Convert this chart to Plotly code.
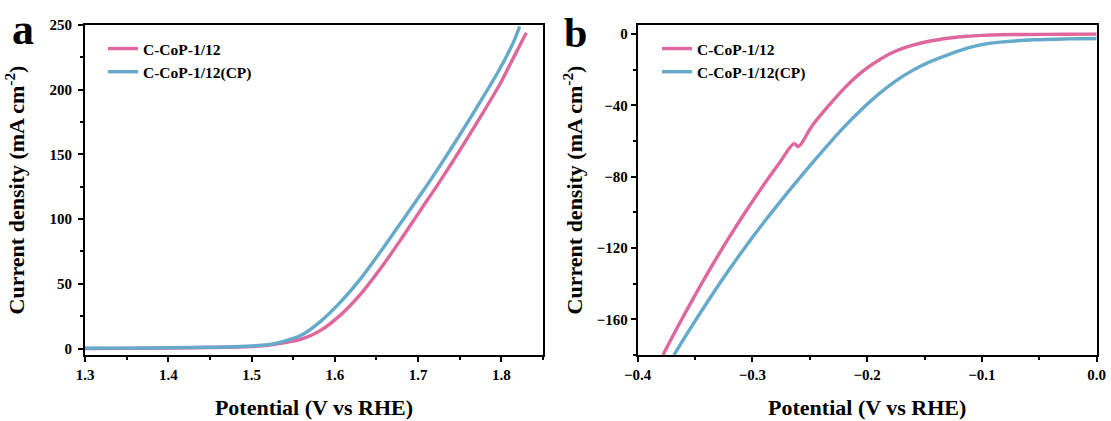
import plotly.graph_objects as go

# ---- Panel a: OER polarisation curves ----
a_pink_x = [1.30, 1.35, 1.40, 1.45, 1.50, 1.52, 1.535, 1.559, 1.583, 1.607, 1.631,
            1.654, 1.678, 1.702, 1.726, 1.750, 1.774, 1.798, 1.814, 1.830]
a_pink_y = [0.0, 0.1, 0.4, 0.8, 1.6, 2.5, 4.0, 7, 14, 26, 42,
            61, 83, 106, 129, 153, 178, 204, 224, 244]
a_blue_x = [1.30, 1.35, 1.40, 1.45, 1.50, 1.52, 1.535, 1.559, 1.583, 1.607, 1.631,
            1.654, 1.678, 1.702, 1.726, 1.750, 1.774, 1.798, 1.814, 1.822]
a_blue_y = [0.2, 0.3, 0.6, 1.0, 2.0, 3.0, 5.0, 10, 21, 36, 54,
            74, 96, 118, 141, 165, 190, 216, 236, 249]

# ---- Panel b: HER polarisation curves ----
b_pink_x = [-0.378, -0.365, -0.350, -0.336, -0.321, -0.306, -0.292, -0.277, -0.2637,
            -0.2600, -0.248, -0.233, -0.219, -0.204, -0.189, -0.175, -0.160, -0.146,
            -0.128, -0.113, -0.099, -0.084, -0.060, -0.030, 0.0]
b_pink_y = [-180, -164.0, -146.4, -130.7, -114.8, -99.7, -86.3, -72.8, -61.5,
            -63.2, -51.5, -39.8, -29.8, -21.0, -14.3, -9.6, -6.3, -4.1,
            -2.3, -1.3, -0.8, -0.5, -0.3, -0.2, -0.1]
b_blue_x = [-0.3684, -0.359, -0.336, -0.321, -0.306, -0.292, -0.277, -0.263, -0.248,
            -0.233, -0.219, -0.204, -0.189, -0.175, -0.160, -0.146, -0.128, -0.113,
            -0.099, -0.084, -0.055, -0.026, 0.0]
b_blue_y = [-180, -170.1, -147.1, -132.8, -119.3, -107.3, -95.0, -83.9, -72.4,
            -61.3, -51.4, -41.8, -33.2, -26.3, -20.3, -15.8, -11.3, -8.0,
            -5.9, -4.6, -3.3, -2.8, -2.6]

names = ["C-CoP-1/12", "C-CoP-1/12(CP)"]
colors = ["#E0679E", "#65AACB"]

FONT = "Liberation Serif"
W, H = 1111, 421

fig = go.Figure()
for (x, y), nm, col in zip([(a_pink_x, a_pink_y), (a_blue_x, a_blue_y)], names, colors):
    fig.add_trace(go.Scatter(x=x, y=y, mode="lines", name=nm,
                             line=dict(color=col, width=3.4, shape="spline", smoothing=0.9),
                             xaxis="x", yaxis="y", legend="legend"))
for (x, y), nm, col in zip([(b_pink_x, b_pink_y), (b_blue_x, b_blue_y)], names, colors):
    fig.add_trace(go.Scatter(x=x, y=y, mode="lines", name=nm,
                             line=dict(color=col, width=3.4, shape="spline", smoothing=0.9),
                             xaxis="x2", yaxis="y2", legend="legend2"))

ydom = [1 - 355 / H, 1 - 25 / H]
tickfont = dict(family=FONT, size=15, color="black", weight="bold")
titlefont = dict(family=FONT, size=22, color="black", weight="bold")
legfont = dict(family=FONT, size=15.5, color="black", weight="bold")


def axis_style(**kw):
    d = dict(showline=True, linecolor="black", linewidth=2, mirror=True,
             ticks="outside", ticklen=5, tickwidth=2, tickcolor="black",
             showgrid=False, zeroline=False, tickfont=tickfont, automargin=False)
    d.update(kw)
    return d


def minor(step):
    return dict(ticks="outside", ticklen=3, tickwidth=2, dtick=step, tickcolor="black")


ytitle = "Current density (mA cm<sup>-2</sup>)"
xtitle = "Potential (V vs RHE)"

fig.update_layout(
    width=W, height=H,
    margin=dict(l=0, r=0, t=0, b=0, autoexpand=False),
    paper_bgcolor="white", plot_bgcolor="white",
    font=dict(family=FONT, color="black"),
    xaxis=axis_style(domain=[85 / W, 543 / W], range=[1.3, 1.85], dtick=0.1, tick0=1.3,
                     minor=minor(0.05), anchor="y",
                     title=dict(text=xtitle, font=titlefont, standoff=18)),
    yaxis=axis_style(domain=ydom, range=[-5, 250], dtick=50, tick0=0,
                     minor=minor(25), anchor="x", ticklabelstandoff=3,
                     title=dict(text=ytitle, font=titlefont, standoff=19)),
    xaxis2=axis_style(domain=[637.7 / W, 1096.7 / W], range=[-0.4, 0.0], dtick=0.1, tick0=-0.4,
                      tickformat=".1f", minor=minor(0.05), anchor="y2",
                      title=dict(text=xtitle, font=titlefont, standoff=18)),
    yaxis2=axis_style(domain=ydom, range=[-180, 5], dtick=40, tick0=0,
                      minor=minor(20), anchor="x2",
                      title=dict(text=ytitle, font=titlefont, standoff=8)),
    legend=dict(x=103 / W, y=1 - 32 / H, xanchor="left", yanchor="top",
                bgcolor="rgba(0,0,0,0)", tracegroupgap=0, font=legfont),
    legend2=dict(x=657 / W, y=1 - 32 / H, xanchor="left", yanchor="top",
                 bgcolor="rgba(0,0,0,0)", tracegroupgap=0, font=legfont),
    annotations=[
        dict(text="a", x=23 / W, y=1 - 29 / H, xref="paper", yref="paper",
             xanchor="center", yanchor="middle", showarrow=False,
             font=dict(family=FONT, size=44, color="black", weight="bold")),
        dict(text="b", x=575 / W, y=1 - 33 / H, xref="paper", yref="paper",
             xanchor="center", yanchor="middle", showarrow=False,
             font=dict(family=FONT, size=42, color="black", weight="bold")),
    ],
)

fig.write_html("out.html")
